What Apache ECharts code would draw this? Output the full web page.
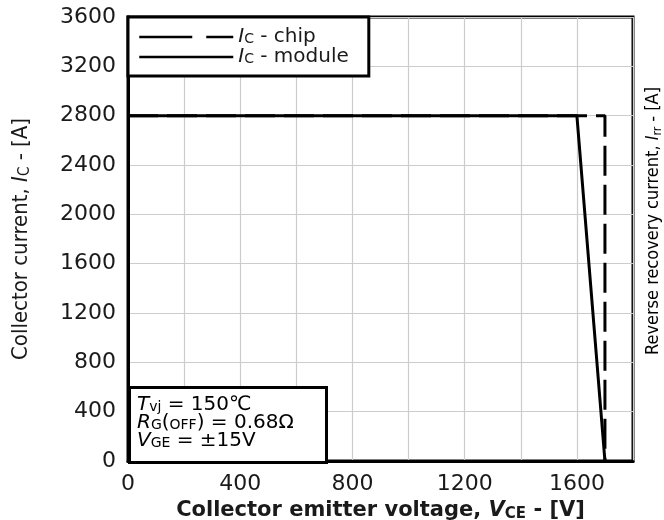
<!DOCTYPE html>
<html><head><meta charset="utf-8">
<script src="https://cdn.jsdelivr.net/npm/echarts@6/dist/echarts.min.js"></script>
<style>html,body{margin:0;padding:0;background:#fff}#c{width:664px;height:520px}</style>
</head><body><div id="c"></div>
<script>
// Data
const chipX = [0, 1700, 1700];
const chipY = [2800, 2800, 0];
const moduleX = [0, 1600, 1700];
const moduleY = [2800, 2800, 0];
const xTicks = [0, 400, 800, 1200, 1600];
const yTicks = [0, 400, 800, 1200, 1600, 2000, 2400, 2800, 3200, 3600];

const FONT = '"DejaVu Sans", Verdana, sans-serif';
const NARROW = '"DejaVu Sans Condensed", "Liberation Sans Narrow", "Liberation Sans", sans-serif';
const C = '#1a1a1a';

const chart = echarts.init(document.getElementById('c'));
const sty = (fs, ff, extra) => Object.assign({fontFamily: ff, fontSize: fs, color: C}, extra || {});

chart.setOption({
  animation: false,
  color: ['#000', '#000'],
  grid: {left: 128, right: 31, top: 17, bottom: 59, show: true, borderColor: '#000', borderWidth: 3,
         containLabel: false, outerBoundsMode: 'none'},
  legend: {
    left: 128, top: 17, orient: 'vertical', itemWidth: 94, itemHeight: 14, itemGap: 0,
    padding: [10, 20, 9, 10], borderColor: '#000', borderWidth: 3, backgroundColor: '#fff',
    itemStyle: {color: 'rgba(0,0,0,0)', borderColor: 'rgba(0,0,0,0)', borderWidth: 0, opacity: 0},
    data: [
      {name: 'chip', lineStyle: {type: [53, 14], width: 2.5, color: '#000'}},
      {name: 'module', lineStyle: {type: 'solid', width: 2.5, color: '#000'}}
    ],
    formatter: n => '{i|I}{s|C}{t| - ' + n + '}',
    textStyle: {
      rich: {
        i: sty(20, FONT, {fontStyle: 'italic', lineHeight: 18}),
        s: sty(14, FONT, {verticalAlign: 'bottom', lineHeight: 12}),
        t: sty(20, FONT, {lineHeight: 18})
      }
    }
  },
  xAxis: {
    type: 'value', min: 0, max: 1800, interval: 200,
    axisLine: {lineStyle: {color: '#000', width: 3}},
    axisTick: {show: false},
    splitLine: {show: true, lineStyle: {color: '#cccccc', width: 1.2}},
    axisLabel: {
      color: C, fontFamily: FONT, fontSize: 22, margin: 12,
      showMaxLabel: false,
      formatter: v => xTicks.indexOf(v) >= 0 ? String(v) : ''
    },
    name: '{b|Collector emitter voltage, }{bi|V}{bs|CE}{b| - [V]}',
    nameLocation: 'middle', nameGap: 30,
    nameTextStyle: {
      rich: {
        b: sty(21, FONT, {fontWeight: 'bold', lineHeight: 22}),
        bi: sty(21, FONT, {fontWeight: 'bold', fontStyle: 'italic', lineHeight: 22}),
        bs: sty(15, FONT, {fontWeight: 'bold', verticalAlign: 'bottom', lineHeight: 14})
      }
    }
  },
  yAxis: {
    type: 'value', min: 0, max: 3600, interval: 400,
    axisLine: {lineStyle: {color: '#000', width: 3}},
    axisTick: {show: false},
    splitLine: {show: true, lineStyle: {color: '#cccccc', width: 1.2}},
    axisLabel: {
      color: C, fontFamily: FONT, fontSize: 22, margin: 12,
      formatter: v => yTicks.indexOf(v) >= 0 ? String(v) : ''
    },
    name: '{n|Collector current, }{i|I}{s|C}{n| - [A]}',
    nameLocation: 'middle', nameGap: 95, nameRotate: 90,
    nameTextStyle: {
      rich: {
        n: sty(22, NARROW, {lineHeight: 24}),
        i: sty(22, NARROW, {fontStyle: 'italic', lineHeight: 24}),
        s: sty(15, NARROW, {verticalAlign: 'bottom', lineHeight: 15})
      }
    }
  },
  series: [
    {name: 'chip', type: 'line', symbol: 'none', z: 3,
     data: chipX.map((x, i) => [x, chipY[i]]),
     lineStyle: {color: '#000', width: 3, type: [30, 9]}},
    {name: 'module', type: 'line', symbol: 'none', z: 4,
     data: moduleX.map((x, i) => [x, moduleY[i]]),
     lineStyle: {color: '#000', width: 3, type: 'solid'}}
  ],
  graphic: [
    {type: 'rect', left: 128, top: 386, z: 10,
     shape: {width: 197, height: 75},
     style: {fill: '#fff', stroke: '#000', lineWidth: 3}},
    {type: 'text', left: 137, top: 395, z: 11,
     style: {
       text: '{i|T}{s|vj}{n| = 150℃}\n{i|R}{s|G}{n|(}{s|OFF}{n|) = 0.68Ω}\n{i|V}{s|GE}{n| = ±15V}',
       rich: {
         n: sty(20, FONT, {lineHeight: 18}),
         i: sty(20, FONT, {fontStyle: 'italic', lineHeight: 18}),
         s: sty(14, FONT, {verticalAlign: 'bottom', lineHeight: 12})
       }
     }},
    {type: 'text', x: 653, y: 221, rotation: Math.PI / 2, z: 11,
     style: {
       text: '{n|Reverse recovery current, }{i|I}{s|rr}{n| - [A]}',
       align: 'center', verticalAlign: 'middle',
       rich: {
         n: sty(18, NARROW, {lineHeight: 22}),
         i: sty(18, NARROW, {fontStyle: 'italic', lineHeight: 22}),
         s: sty(12, NARROW, {verticalAlign: 'bottom', lineHeight: 13})
       }
     }}
  ]
});
</script></body></html>
